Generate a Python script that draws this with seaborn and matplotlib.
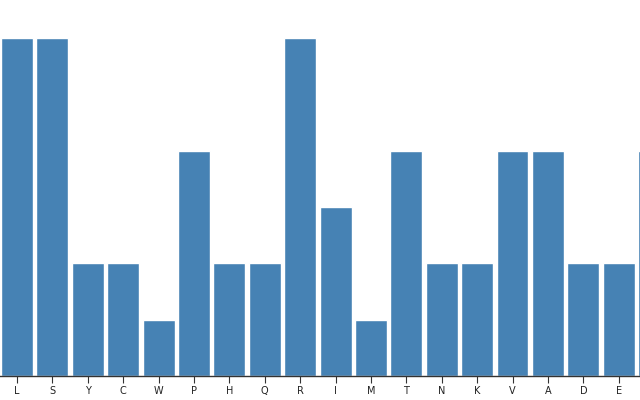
import pandas as pd
import matplotlib
matplotlib.use("Agg")
import matplotlib.pyplot as plt
import seaborn as sns

# letras y conteos (la ultima barra queda cortada)
letras = ["L", "S", "Y", "C", "W", "P", "H", "Q", "R", "I", "M", "T", "N", "K", "V", "A", "D", "E", "G"]
conteos = [6, 6, 2, 2, 1, 4, 2, 2, 6, 3, 1, 4, 2, 2, 4, 4, 2, 2, 4]

df = pd.DataFrame({"letra": letras, "conteo": conteos})

sns.set_style("white")
plt.rcParams["font.family"] = ["DejaVu Sans"]

fig = plt.figure(figsize=(6.4, 4.0), dpi=100)
ax = fig.add_axes([0, 24 / 400, 1, 376 / 400])

sns.barplot(data=df, x="letra", y="conteo", color="#4682b4", saturation=1,
            width=0.9, ax=ax)

ax.set_xlim(-0.48, 17.6)
ax.set_ylim(0, 6 * 376 / 338)

# solo eje inferior
for lado in ["left", "right", "top"]:
    ax.spines[lado].set_visible(False)
ax.spines["bottom"].set_color("#333333")
ax.spines["bottom"].set_linewidth(1)
ax.set_yticks([])
ax.tick_params(axis="x", bottom=True, length=5, width=0.8, color="#333333",
               labelsize=7, labelcolor="#222222", pad=2)
ax.set_xlabel("")
ax.set_ylabel("")

fig.savefig("out.png", dpi=100)
